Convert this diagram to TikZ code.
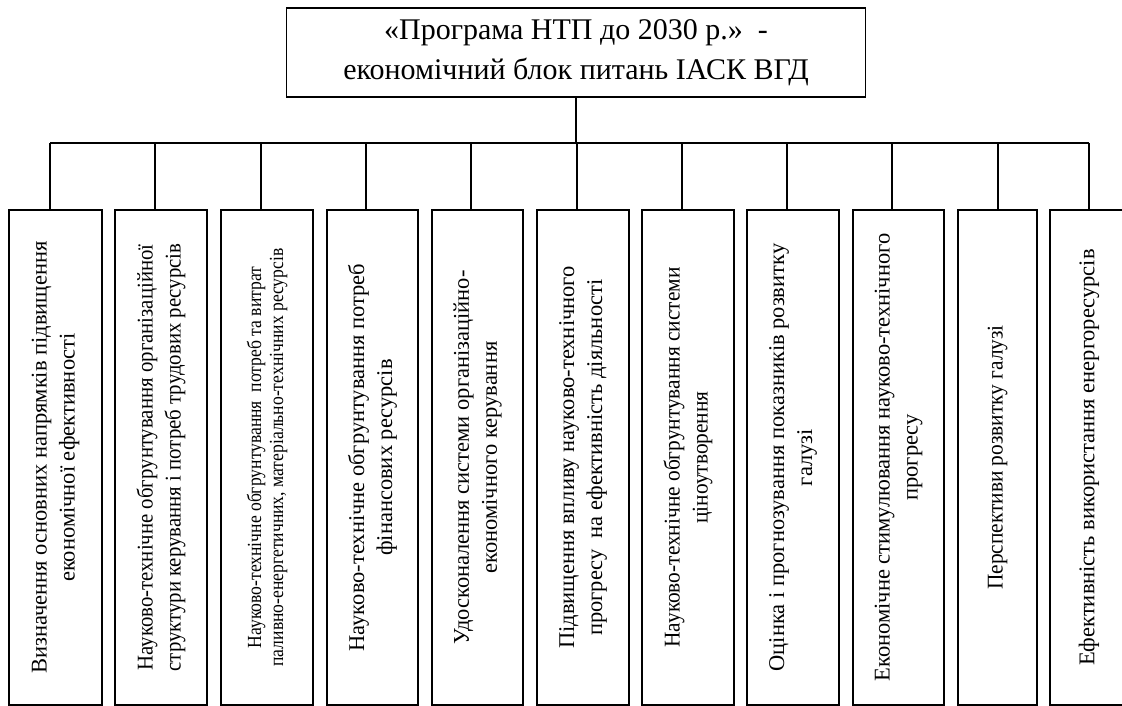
\documentclass[tikz,border=0pt]{standalone}
\usepackage{fontspec}
\setmainfont{Liberation Serif}
\newfontfamily\condA[FakeStretch=0.925]{Liberation Serif}
\newfontfamily\condB[FakeStretch=0.95]{Liberation Serif}
\newfontfamily\condC[FakeStretch=0.88]{Liberation Serif}
\begin{document}
\begin{tikzpicture}[x=1pt,y=-1pt,line width=1.3pt,
  topbox/.style={draw,minimum width=579pt,minimum height=89pt,inner sep=0pt,align=center,font=\fontsize{30}{40}\selectfont},
  itembox/.style={draw,rotate=90,minimum width=495pt,minimum height=#1,inner sep=0pt,align=center,font=\fontsize{22.5}{28}\selectfont},
  narrowA/.style={font=\condA\fontsize{22.5}{28}\selectfont},
  narrowB/.style={font=\condB\fontsize{22.5}{28}\selectfont},
  smalltext/.style={font=\condC\fontsize{20}{22}\selectfont},
  link/.style={line width=1.3pt}]
\useasboundingbox (0,0) rectangle (1122,706);
\node[topbox] (top) at (576,52.5) {«Програма НТП до 2030 р.»\ \ -\\економічний блок питань ІАСК ВГД};
\coordinate (hub) at (576,143);
\node[itembox=93pt] (b1) at (55.5,457.5) {Визначення основних напрямків підвищення\\економічної ефективності};
\node[itembox=92pt,narrowA] (b2) at (161,457.5) {Науково-технічне обгрунтування організаційної\\структури керування і потреб трудових ресурсів};
\node[itembox=92pt,smalltext] (b3) at (267,457.5) {Науково-технічне обгрунтування\ \ потреб та витрат\\паливно-енергетичних, матеріально-технічних ресурсів};
\node[itembox=91pt] (b4) at (372.5,457.5) {Науково-технічне обгрунтування потреб\\фінансових ресурсів};
\node[itembox=91pt] (b5) at (477.5,457.5) {Удосконалення системи організаційно-\\економічного керування};
\node[itembox=92pt] (b6) at (583,457.5) {Підвищення впливу науково-технічного\\прогресу\ \ на ефективність діяльності};
\node[itembox=92pt,narrowB] (b7) at (688,457.5) {Науково-технічне обгрунтування системи\\ціноутворення};
\node[itembox=92pt] (b8) at (793,457.5) {Оцінка і прогнозування показників розвитку\\галузі};
\node[itembox=91pt] (b9) at (898.5,457.5) {Економічне стимулювання науково-технічного\\прогресу};
\node[itembox=79pt,narrowB] (b10) at (997.5,457.5) {Перспективи розвитку галузі};
\node[itembox=78pt] (b11) at (1089,457.5) {Ефективність використання енергоресурсів};
\coordinate (s1) at (50,143);
\coordinate (s2) at (155,143);
\coordinate (s3) at (261,143);
\coordinate (s4) at (366,143);
\coordinate (s5) at (471,143);
\coordinate (s6) at (577,143);
\coordinate (s7) at (682,143);
\coordinate (s8) at (787,143);
\coordinate (s9) at (892,143);
\coordinate (s10) at (998,143);
\coordinate (s11) at (1089,143);
\draw[link] (top.south) -- (hub);
\draw[link] (s1) -- (s11);
\foreach \i in {1,...,11} {\draw[link] (s\i) -- (s\i |- b\i.east);}
\end{tikzpicture}
\end{document}
